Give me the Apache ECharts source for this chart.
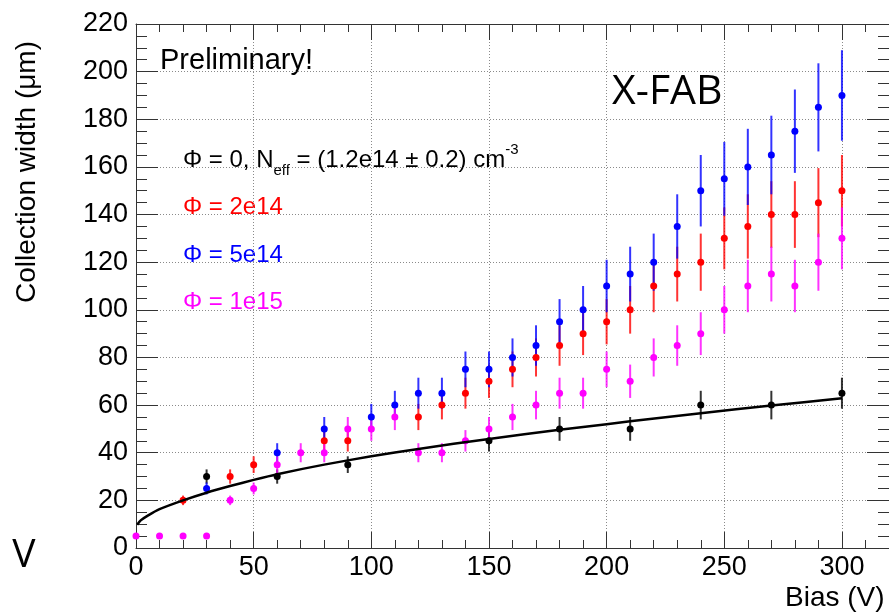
<!DOCTYPE html>
<html>
<head>
<meta charset="utf-8">
<script src="https://cdn.jsdelivr.net/npm/echarts@6/dist/echarts.min.js"></script>
<style>
  html, body { margin: 0; padding: 0; background: #ffffff; }
  #chart { width: 889px; height: 615px; }
</style>
</head>
<body>
<div id="chart"></div>
<script>
// Collection width vs. bias voltage for four fluences.
// Phi = 0 (unirradiated)
const bias0   = [30, 60, 90, 150, 180, 210, 240, 270, 300];
const width0  = [30, 30, 35, 45, 50, 50, 60, 60, 65];
const err0    = [3, 3, 3.5, 4.5, 5, 5, 6, 6, 6.5];

// Phi = 2e14
const bias2e14  = [20, 40, 50, 80, 90, 120, 130, 140, 150, 160, 170, 180, 190, 200, 210, 220, 230, 240, 250, 260, 270, 280, 290, 300];
const width2e14 = [20, 30, 35, 45, 45, 55, 60, 65, 70, 75, 80, 85, 90, 95, 100, 110, 115, 120, 130, 135, 140, 140, 145, 150];
const err2e14   = [2, 3, 3.5, 4.5, 4.5, 5.5, 6, 6.5, 7, 7.5, 8, 8.5, 9, 9.5, 10, 11, 11.5, 12, 13, 13.5, 14, 14, 14.5, 15];

// Phi = 5e14
const bias5e14  = [30, 60, 80, 100, 110, 120, 130, 140, 150, 160, 170, 180, 190, 200, 210, 220, 230, 240, 250, 260, 270, 280, 290, 300];
const width5e14 = [25, 40, 50, 55, 60, 65, 65, 75, 75, 80, 85, 95, 100, 110, 115, 120, 135, 150, 155, 160, 165, 175, 185, 190];
const err5e14   = [2.5, 4, 5, 5.5, 6, 6.5, 6.5, 7.5, 7.5, 8, 8.5, 9.5, 10, 11, 11.5, 12, 13.5, 15, 15.5, 16, 16.5, 17.5, 18.5, 19];

// Phi = 1e15
const bias1e15  = [0, 10, 20, 30, 40, 50, 60, 70, 80, 90, 100, 110, 120, 130, 140, 150, 160, 170, 180, 190, 200, 210, 220, 230, 240, 250, 260, 270, 280, 290, 300];
const width1e15 = [5, 5, 5, 5, 20, 25, 35, 40, 40, 50, 50, 55, 40, 40, 45, 50, 55, 60, 65, 65, 75, 70, 80, 85, 90, 100, 110, 115, 110, 120, 130];
const err1e15   = [0.5, 0.5, 0.5, 0.5, 2, 2.5, 3.5, 4, 4, 5, 5, 5.5, 4, 4, 4.5, 5, 5.5, 6, 6.5, 6.5, 7.5, 7, 8, 8.5, 9, 10, 11, 11.5, 11, 12, 13];

// Depletion fit curve for Phi = 0 (sampled points)
const fitBias  = [0.5, 2, 5, 10, 20, 30, 40, 50, 60, 80, 100, 120, 150, 180, 200, 210, 240, 270, 300];
const fitWidth = [9.8, 11.6, 13.6, 16.3, 20.0, 23.2, 26.0, 28.6, 31.0, 35.0, 38.5, 41.6, 45.8, 49.6, 52.0, 53.2, 56.6, 59.8, 62.9];

// Axis settings
const xMin = 0, xMax = 320, xMajor = 50, xMinor = 10;
const yMin = 0, yMax = 220, yMajor = 20;

const FONT = '"Liberation Sans", Arial, Helvetica, sans-serif';
const FRAME = '#333333';
const GRIDLINE = { color: '#8a8a8a', width: 1, type: [1, 2] };

const chart = echarts.init(document.getElementById('chart'), null, { renderer: 'canvas' });

function pairs(xs, ys) { return xs.map((x, i) => [x, ys[i]]); }

function errorBars(name, xs, ys, es, color) {
  return {
    name: name + ' err',
    type: 'custom',
    xAxisIndex: 0, yAxisIndex: 0,
    silent: true,
    data: xs.map((x, i) => [x, ys[i] - es[i], ys[i] + es[i]]),
    encode: { x: 0, y: [1, 2] },
    renderItem: function (params, api) {
      const lo = api.coord([api.value(0), api.value(1)]);
      const hi = api.coord([api.value(0), api.value(2)]);
      return {
        type: 'line',
        shape: { x1: lo[0], y1: lo[1], x2: hi[0], y2: hi[1] },
        style: { stroke: color, lineWidth: 2, opacity: 0.8 }
      };
    }
  };
}

function markers(name, xs, ys, color) {
  return {
    name: name,
    type: 'scatter',
    xAxisIndex: 0, yAxisIndex: 0,
    silent: true,
    symbol: 'circle',
    symbolSize: 7,
    itemStyle: { color: color, opacity: 1 },
    data: pairs(xs, ys)
  };
}

const gridRect = { left: 136, top: 24, width: 755, height: 524 };

const option = {
  animation: false,
  backgroundColor: '#ffffff',
  grid: [
    Object.assign({ show: false }, gridRect),
    Object.assign({ show: false }, gridRect)
  ],
  xAxis: [
    { // bottom, major ticks + labels
      type: 'value', gridIndex: 0, position: 'bottom',
      min: xMin, max: xMax, interval: xMajor,
      axisLine: { show: true, onZero: false, lineStyle: { color: FRAME, width: 1 } },
      axisTick: { show: true, inside: true, length: 16, lineStyle: { color: FRAME } },
      axisLabel: { show: true, fontFamily: FONT, fontSize: 27, color: '#000', margin: 6, showMaxLabel: false },
      splitLine: { show: true, lineStyle: GRIDLINE }
    },
    { // top frame, major ticks
      type: 'value', gridIndex: 0, position: 'top',
      min: xMin, max: xMax, interval: xMajor,
      axisLine: { show: true, onZero: false, lineStyle: { color: FRAME, width: 1 } },
      axisTick: { show: true, inside: true, length: 16, lineStyle: { color: FRAME } },
      axisLabel: { show: false },
      splitLine: { show: false }
    },
    { // bottom minor ticks
      type: 'value', gridIndex: 1, position: 'bottom',
      min: xMin, max: xMax, interval: xMinor,
      axisLine: { show: false, onZero: false },
      axisTick: { show: true, inside: true, length: 8, lineStyle: { color: FRAME } },
      axisLabel: { show: false },
      splitLine: { show: false }
    },
    { // top minor ticks
      type: 'value', gridIndex: 1, position: 'top',
      min: xMin, max: xMax, interval: xMinor,
      axisLine: { show: false, onZero: false },
      axisTick: { show: true, inside: true, length: 8, lineStyle: { color: FRAME } },
      axisLabel: { show: false },
      splitLine: { show: false }
    }
  ],
  yAxis: [
    {
      type: 'value', gridIndex: 0, position: 'left',
      min: yMin, max: yMax, interval: yMajor,
      axisLine: { show: true, onZero: false, lineStyle: { color: FRAME, width: 1 } },
      axisTick: { show: true, inside: true, length: 22, lineStyle: { color: FRAME } },
      minorTick: { show: true, splitNumber: 4, length: 11, lineStyle: { color: FRAME } },
      axisLabel: { show: true, fontFamily: FONT, fontSize: 27, color: '#000', margin: 8 },
      splitLine: { show: true, lineStyle: GRIDLINE }
    },
    {
      type: 'value', gridIndex: 0, position: 'right',
      min: yMin, max: yMax, interval: yMajor,
      axisLine: { show: true, onZero: false, lineStyle: { color: FRAME, width: 1 } },
      axisTick: { show: true, inside: true, length: 22, lineStyle: { color: FRAME } },
      minorTick: { show: true, splitNumber: 4, length: 11, lineStyle: { color: FRAME } },
      axisLabel: { show: false },
      splitLine: { show: false }
    },
    {
      type: 'value', gridIndex: 1, show: false,
      min: yMin, max: yMax
    }
  ],
  series: [
    errorBars('phi0', bias0, width0, err0, '#000000'),
    markers('phi0', bias0, width0, '#000000'),
    {
      name: 'fit',
      type: 'line',
      xAxisIndex: 0, yAxisIndex: 0,
      silent: true,
      smooth: 0.25,
      showSymbol: false,
      symbol: 'none',
      lineStyle: { color: '#000000', width: 2.5 },
      data: pairs(fitBias, fitWidth)
    },
    errorBars('phi2e14', bias2e14, width2e14, err2e14, '#ff0000'),
    markers('phi2e14', bias2e14, width2e14, '#ff0000'),
    errorBars('phi5e14', bias5e14, width5e14, err5e14, '#0000ff'),
    markers('phi5e14', bias5e14, width5e14, '#0000ff'),
    errorBars('phi1e15', bias1e15, width1e15, err1e15, '#ff00ff'),
    markers('phi1e15', bias1e15, width1e15, '#ff00ff')
  ],
  graphic: [
    {
      type: 'text', x: 27, y: 172, rotation: Math.PI / 2, silent: true,
      style: { text: 'Collection width (\u03bcm)', font: '28px ' + FONT, fill: '#000', align: 'center', verticalAlign: 'middle' }
    },
    {
      type: 'text', x: 785, y: 598, silent: true,
      style: { text: 'Bias (V)', font: '28px ' + FONT, fill: '#000', align: 'left', verticalAlign: 'middle' }
    },
    {
      type: 'text', x: 24, y: 556, silent: true,
      style: { text: 'V', font: '39px "Open Sans", sans-serif', fill: '#000', align: 'center', verticalAlign: 'middle' }
    },
    {
      type: 'text', x: 160, y: 61, silent: true,
      style: { text: 'Preliminary!', font: '29px ' + FONT, fill: '#000', align: 'left', verticalAlign: 'middle' }
    },
    {
      type: 'text', x: 612, y: 92, silent: true,
      style: { text: 'X-FAB', font: '41px "Open Sans", sans-serif', fill: '#000', align: 'left', verticalAlign: 'middle' }
    },
    {
      type: 'text', x: 183, y: 160, silent: true,
      style: {
        text: '{m|\u03a6 = 0, N}{sub|eff}{m| = (1.2e14 \u00b1 0.2) cm}{sup|-3}',
        fill: '#000', align: 'left', verticalAlign: 'middle',
        rich: {
          m:   { fontFamily: FONT, fontSize: 24, lineHeight: 36, fill: '#000' },
          sub: { fontFamily: FONT, fontSize: 15, lineHeight: 16, verticalAlign: 'bottom', fill: '#000' },
          sup: { fontFamily: FONT, fontSize: 15, lineHeight: 16, verticalAlign: 'top', fill: '#000' }
        }
      }
    },
    {
      type: 'text', x: 183, y: 207, silent: true,
      style: { text: '\u03a6 = 2e14', font: '24px ' + FONT, fill: '#ff0000', align: 'left', verticalAlign: 'middle' }
    },
    {
      type: 'text', x: 183, y: 255, silent: true,
      style: { text: '\u03a6 = 5e14', font: '24px ' + FONT, fill: '#0000ff', align: 'left', verticalAlign: 'middle' }
    },
    {
      type: 'text', x: 183, y: 302, silent: true,
      style: { text: '\u03a6 = 1e15', font: '24px ' + FONT, fill: '#ff00ff', align: 'left', verticalAlign: 'middle' }
    }
  ]
};

chart.setOption(option);
</script>
</body>
</html>
